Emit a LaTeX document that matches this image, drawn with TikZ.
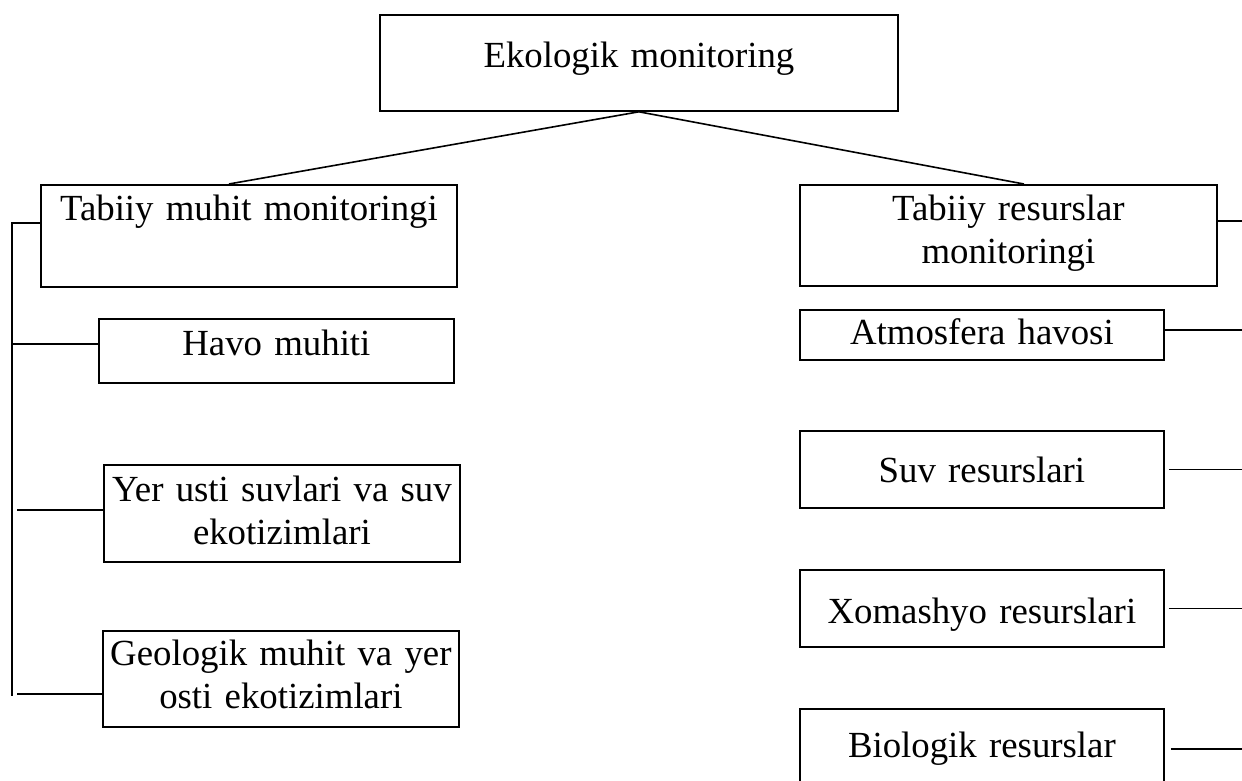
\documentclass[tikz,border=0pt]{standalone}
\usepackage{fontspec}
\setmainfont{Liberation Serif}

\begin{document}
\begin{tikzpicture}[x=0.5pt,y=-0.5pt,
    box/.style={draw,line width=0.9pt,inner sep=0pt,anchor=north west,align=center,
        font=\fontsize{18.4}{21.5}\selectfont},
    link/.style={line width=0.8pt}]

    \useasboundingbox (0,0) rectangle (1242,781);

    \node[box,text width=259pt,text height=26.5pt,text depth=21.5pt] (eko) at (379,14) {Ekologik monitoring};

    \node[box,text width=208pt,text height=18pt,text depth=33pt] (tmm) at (40,184) {Tabiiy muhit monitoringi};
    \node[box,text width=177.5pt,text height=18.5pt,text depth=13.5pt] (havo) at (98,318) {Havo muhiti};
    \node[box,text width=178pt,text height=18.5pt,text depth=30pt] (yer) at (103,464) {Yer usti suvlari va suv\\ekotizimlari};
    \node[box,text width=178pt,text height=17.5pt,text depth=30.5pt] (geo) at (102,630) {Geologik muhit va yer\\osti ekotizimlari};

    \node[box,text width=208.5pt,text height=18pt,text depth=32.5pt] (trm) at (799,184) {Tabiiy resurslar\\monitoringi};
    \node[box,text width=182pt,text height=17.5pt,text depth=7.5pt] (atm) at (799,309) {Atmosfera havosi};
    \node[box,text width=182pt,text height=26pt,text depth=12.5pt] (suv) at (799,430) {Suv resurslari};
    \node[box,text width=182pt,text height=27pt,text depth=11.5pt] (xom) at (799,569) {Xomashyo resurslari};
    \node[box,text width=182pt,text height=24.5pt,text depth=21.5pt] (bio) at (799,708) {Biologik resurslar};

    \coordinate (lend) at (12,696);
    \coordinate (rbus) at (1242,220);

    \path[link] (eko.south) edge ([xshift=-10pt]tmm.north)
                            edge ([xshift=7.75pt]trm.north);

    \draw[link] ([yshift=6.5pt]tmm.west) -| (lend);
    \draw[link] ([yshift=3.5pt]havo.west) -- ([yshift=3.5pt]havo.west -| lend);
    \draw[link,shorten >=2.5pt] ([yshift=1.75pt]yer.west) -- ([yshift=1.75pt]yer.west -| lend);
    \draw[link,shorten >=2.5pt] ([yshift=-7.5pt]geo.west) -- ([yshift=-7.5pt]geo.west -| lend);

    \draw[link] ([yshift=7.25pt]trm.east) -- ([yshift=7.25pt]trm.east -| rbus);
    \draw[link] ([yshift=2.5pt]atm.east) -- ([yshift=2.5pt]atm.east -| rbus);
    \draw[link,shorten <=2pt] (suv.east) -- (suv.east -| rbus);
    \draw[link,shorten <=2pt] (xom.east) -- (xom.east -| rbus);
    \draw[link,shorten <=3pt] ([yshift=3pt]bio.east) -- ([yshift=3pt]bio.east -| rbus);
\end{tikzpicture}
\end{document}
